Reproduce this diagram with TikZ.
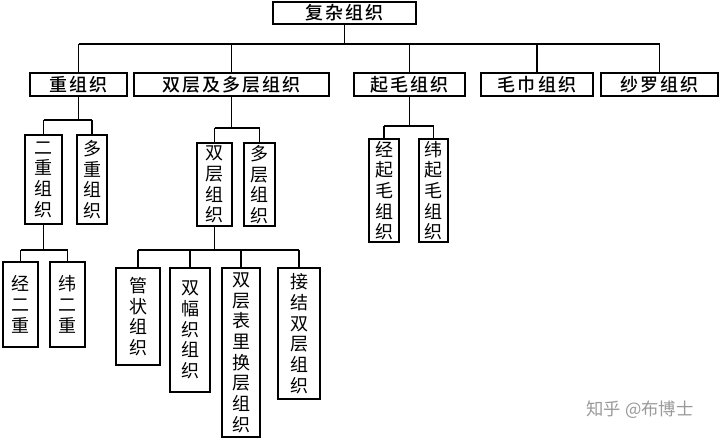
\documentclass[tikz,border=0pt]{standalone}
\usepackage{fontspec}
\newfontfamily\cjk[BoldFont={Noto Sans CJK SC Bold}]{Noto Sans CJK SC}
\newfontfamily\cjkh[LetterSpace=12]{Noto Sans CJK SC Medium}
\begin{document}
\begin{tikzpicture}[x=0.75pt,y=-0.75pt,
  box/.style={draw,line width=1pt,inner sep=0pt,font=\cjk\fontsize{13.5}{15.5}\selectfont,align=center},
  hbox/.style={box,font=\cjkh\fontsize{13.5}{15.5}\selectfont},
  conn/.style={line width=0.8pt}]
\useasboundingbox (0,0) rectangle (720,442);
\newcommand{\bx}[7]{\node[#7,minimum width=#4*0.75pt,minimum height=#5*0.75pt] (#1) at (#2,#3) {#6};}
\bx{root}{344.5}{13}{143}{22}{复杂组织}{hbox}
\bx{a}{78.5}{84.5}{97}{23}{重组织}{hbox}
\bx{b}{231.5}{84.5}{195}{23}{双层及多层组织}{hbox}
\bx{c}{409.5}{84.5}{111}{23}{起毛组织}{hbox}
\bx{d}{537}{84.5}{112}{23}{毛巾组织}{hbox}
\bx{e}{659.5}{84.5}{117}{23}{纱罗组织}{hbox}
\bx{a1}{43.5}{179.5}{37}{89}{二\\重\\组\\织}{box}
\bx{a2}{92}{179.5}{30}{89}{多\\重\\组\\织}{box}
\bx{a11}{20.5}{304.5}{35}{85}{经\\二\\重}{box}
\bx{a12}{67.5}{304.5}{35}{85}{纬\\二\\重}{box}
\bx{b1}{214.5}{184.5}{35}{83}{双\\层\\组\\织}{box}
\bx{b2}{259.5}{184.5}{31}{83}{多\\层\\组\\织}{box}
\bx{b11}{138}{316.5}{44}{97}{管\\状\\组\\织}{box}
\bx{b12}{190}{330}{40}{124}{双\\幅\\织\\组\\织}{box}
\bx{b13}{241}{352.5}{38}{169}{双\\层\\表\\里\\换\\层\\组\\织}{box}
\bx{b14}{299}{333.5}{42}{131}{接\\结\\双\\层\\组\\织}{box}
\bx{c1}{384}{190.5}{30}{103}{经\\起\\毛\\组\\织}{box}
\bx{c2}{433.5}{190.5}{29}{103}{纬\\起\\毛\\组\\织}{box}
% connectors
\draw[conn] (root.south) -- (344.5,44);
\draw[conn] (78.5,44) -- (659.5,44);
\foreach \n in {a,b,c,d,e} \draw[conn] (\n.north) -- (\n.north|-0,44);
\draw[conn] (a.south) -- (78.5,120);
\draw[conn] (43.5,120) -- (92,120);
\foreach \n in {a1,a2} \draw[conn] (\n.north) -- (\n.north|-0,120);
\draw[conn] (a1.south) -- (43.5,250);
\draw[conn] (20.5,250) -- (67.5,250);
\foreach \n in {a11,a12} \draw[conn] (\n.north) -- (\n.north|-0,250);
\draw[conn] (b.south) -- (231.5,128);
\draw[conn] (214.5,128) -- (259.5,128);
\foreach \n in {b1,b2} \draw[conn] (\n.north) -- (\n.north|-0,128);
\draw[conn] (b1.south) -- (214.5,250);
\draw[conn] (138,250) -- (299,250);
\foreach \n in {b11,b12,b13,b14} \draw[conn] (\n.north) -- (\n.north|-0,250);
\draw[conn] (c.south) -- (409.5,126);
\draw[conn] (384,126) -- (433.5,126);
\foreach \n in {c1,c2} \draw[conn] (\n.north) -- (\n.north|-0,126);
\node[font=\cjk\fontsize{13}{15}\selectfont,text=gray!80] (wm) at (640,410) {知乎 @布博士};
\end{tikzpicture}
\end{document}
